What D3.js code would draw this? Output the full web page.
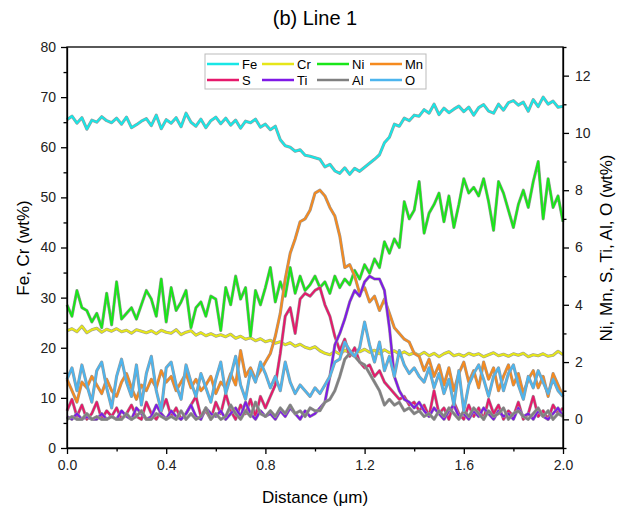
<!DOCTYPE html>
<html><head><meta charset="utf-8">
<script src="https://cdn.jsdelivr.net/npm/d3@7"></script>
<style>body{margin:0;background:#fff}svg{display:block;font-family:Arial,"Liberation Sans",sans-serif}</style>
</head><body><svg id="c" width="629" height="514"></svg>
<script>
const distance = d3.range(0, 101).map(i => +(i * 0.02).toFixed(2));
const xTicks = [0, 0.4, 0.8, 1.2, 1.6, 2.0];
const leftTicks = [0, 10, 20, 30, 40, 50, 60, 70, 80];
const rightTicks = [0, 2, 4, 6, 8, 10, 12];

const Fe = [65.5,66.2,64.8,65.9,63.6,65.4,65.0,66.1,65.3,64.9,65.8,
64.6,66.0,63.9,64.5,65.2,65.7,64.3,66.4,63.7,65.5,
64.8,65.9,64.1,66.8,65.0,64.2,65.6,63.9,65.3,66.0,
64.7,65.8,64.4,65.4,63.8,65.2,64.9,65.6,64.0,64.6,
63.5,64.2,61.5,60.3,60.0,59.2,59.5,58.4,58.2,57.9,
57.6,56.1,56.6,55.3,54.8,55.9,54.6,55.8,55.2,56.0,
56.8,57.6,58.5,60.9,62.0,64.6,64.2,65.8,65.3,66.4,
66.2,67.5,66.8,68.6,66.5,67.8,66.9,67.6,68.2,67.1,
68.0,66.4,67.9,68.5,67.2,66.8,68.6,67.4,68.9,69.3,
68.4,69.0,67.2,69.5,68.1,70.0,68.6,69.2,68.0,68.2];
const Cr = [23.4,23.8,23.2,24.3,23.0,23.6,23.9,23.1,23.7,23.3,23.8,
23.2,23.5,22.9,23.6,23.3,23.0,23.4,22.8,23.5,23.1,
22.9,23.6,22.6,23.1,23.4,22.5,23.0,22.4,22.8,22.3,
22.6,22.2,22.7,21.9,22.3,21.7,22.0,21.4,21.8,21.2,
21.5,20.9,21.2,20.6,21.0,20.3,20.7,20.1,19.8,20.2,
19.4,18.9,18.6,19.3,18.7,19.5,19.0,19.6,19.2,19.7,
19.1,19.5,18.8,19.6,19.0,19.4,18.7,19.2,18.6,19.0,
18.5,19.1,18.4,18.9,18.2,18.8,19.2,18.4,18.7,18.3,
18.9,18.5,18.8,18.2,18.6,19.0,18.4,18.7,18.3,18.8,
18.5,18.9,18.2,18.6,18.4,18.8,18.3,18.5,19.3,18.6];
const Ni = [4.0,3.6,4.5,3.9,3.8,3.4,3.7,3.2,4.4,3.3,4.8,
3.5,3.7,3.9,3.5,4.0,4.5,4.2,3.6,4.9,3.4,
4.6,3.8,4.1,4.5,3.2,3.9,4.1,3.6,4.3,4.2,
3.1,4.6,4.0,5.0,4.2,4.6,2.9,4.5,4.0,4.6,
5.3,4.1,4.8,4.3,5.3,4.4,5.0,4.5,4.7,5.0,
4.6,4.8,4.4,5.0,4.6,4.9,4.7,5.2,4.9,5.4,
5.1,5.6,5.3,6.2,5.8,6.3,6.0,7.6,7.0,7.3,
8.3,6.5,7.2,7.5,7.9,6.9,7.8,6.7,7.5,8.4,
7.9,8.1,7.8,8.4,7.6,6.6,8.3,7.9,7.3,6.7,
7.5,8.0,7.4,8.3,9.0,7.0,8.4,7.4,7.8,6.9];
const Mn = [1.4,1.0,0.6,1.3,1.1,1.5,1.2,0.9,1.4,1.0,0.8,
1.3,1.6,1.1,0.7,1.2,1.0,1.4,1.1,1.7,1.3,
1.5,1.0,1.3,1.6,1.1,1.4,1.0,1.2,1.5,0.9,
1.3,1.1,1.6,1.2,2.4,1.5,1.8,1.4,1.7,2.0,
2.3,2.9,3.7,4.9,5.8,6.3,6.9,7.0,7.3,7.9,
8.0,7.8,7.4,7.1,6.4,5.3,5.4,5.0,4.4,4.6,
4.1,4.3,3.8,4.2,3.7,3.2,3.0,2.8,2.7,2.3,
2.2,1.7,2.1,1.5,1.9,1.2,1.8,1.0,1.6,2.0,
1.3,1.7,1.1,2.0,1.4,1.8,1.0,1.5,1.9,1.2,
1.6,0.9,1.4,1.7,1.1,1.5,0.8,1.6,1.2,0.8];
const S = [0.3,0.7,0.1,0.5,0.0,0.2,0.6,0.0,0.3,0.1,0.4,
0.0,0.2,0.5,0.1,0.0,0.6,0.2,0.0,0.3,0.7,
0.1,0.4,0.0,0.2,0.5,0.8,0.1,0.3,0.0,0.6,
0.2,0.9,0.3,0.0,0.5,0.2,0.7,0.1,0.8,0.4,
0.8,1.2,2.3,3.6,3.9,3.0,4.2,4.4,4.3,4.5,
4.6,4.0,3.6,2.9,2.4,2.8,2.2,2.5,2.0,1.8,
1.9,1.5,1.7,1.3,1.1,0.9,0.7,0.8,0.5,0.6,
0.3,0.5,0.1,1.0,0.2,0.4,0.0,0.6,0.2,0.0,
0.5,0.1,0.4,0.0,0.7,0.2,0.5,0.0,0.3,0.1,
0.6,0.0,0.2,0.8,0.1,0.3,0.0,0.5,0.2,0.4];
const Ti = [0.1,0.0,0.2,0.0,0.1,0.0,0.0,0.2,0.0,0.1,0.0,
0.3,0.1,0.0,0.4,0.2,0.0,0.1,0.5,0.2,0.0,
0.3,0.1,0.0,0.2,0.5,0.1,0.0,0.4,0.2,0.1,
0.3,0.0,0.2,0.4,0.1,0.6,0.2,0.0,0.3,0.1,
0.2,0.0,0.3,0.1,0.4,0.2,0.0,0.3,0.1,0.2,
0.4,0.6,1.5,2.6,3.0,3.5,4.1,4.5,4.3,4.8,
5.0,4.9,4.9,4.5,3.2,1.5,1.0,0.7,0.6,0.4,
0.6,0.3,0.1,0.4,0.2,0.0,0.3,0.5,0.1,0.2,
0.0,0.3,0.1,0.4,0.2,0.0,0.3,0.1,0.2,0.0,
0.4,0.1,0.2,0.0,0.3,0.1,0.0,0.2,0.4,0.1];
const Al = [0.0,0.1,0.0,0.0,0.2,0.0,0.1,0.0,0.0,0.1,0.0,
0.0,0.2,0.0,0.1,0.3,0.0,0.0,0.2,0.1,0.0,
0.1,0.0,0.3,0.0,0.2,0.0,0.1,0.4,0.0,0.2,
0.0,0.1,0.5,0.2,0.0,0.3,0.1,0.6,0.2,0.1,
0.3,0.1,0.4,0.2,0.5,0.2,0.3,0.1,0.4,0.3,
0.3,0.6,0.7,1.0,1.5,2.1,2.3,2.2,2.0,1.9,
1.6,1.3,1.0,0.5,0.7,0.5,0.6,0.3,0.4,0.2,
0.3,0.1,0.2,0.0,0.3,0.1,0.4,0.2,0.0,0.3,
0.1,0.4,0.2,0.0,0.3,0.1,0.2,0.4,0.0,0.2,
0.3,0.1,0.0,0.2,0.4,0.1,0.3,0.0,0.2,0.1];
const O = [1.4,1.8,1.0,1.9,1.2,0.6,1.7,2.0,1.1,0.4,1.5,
2.1,1.3,0.8,1.9,0.5,1.6,2.2,1.0,0.3,1.8,
2.0,1.2,0.7,1.9,1.3,0.8,1.6,1.1,0.6,1.4,
2.0,0.9,1.5,2.2,1.2,0.7,1.7,1.3,2.0,1.6,
1.1,1.5,1.0,2.0,1.3,0.9,1.2,1.0,0.8,1.1,
0.9,1.2,1.5,2.0,2.1,2.7,2.4,2.2,2.5,3.4,
2.6,2.0,2.7,1.7,2.2,1.5,2.4,1.9,1.6,1.8,
1.5,1.3,1.8,1.1,1.6,0.9,1.4,0.5,1.7,0.3,
1.2,1.6,1.9,1.4,0.8,1.5,1.8,1.0,1.6,1.9,
1.2,0.7,1.5,1.1,1.7,1.3,0.9,1.4,1.0,0.8];

const seriesNames = ["Fe","Cr","Ni","Mn","S","Ti","Al","O"];
const seriesValues = [Fe, Cr, Ni, Mn, S, Ti, Al, O];
const seriesAxis = ["left","left","right","right","right","right","right","right"];
const seriesColors = ["#19E6E6","#E6E619","#19E619","#F58A1F","#E6196B","#7F19E6","#808080","#4DB5EE"];

const svg = d3.select("#c");
const L = 67, R = 563, T = 47, B = 448;
const x = d3.scaleLinear().domain([0, 2]).range([L, R]);
const yL = d3.scaleLinear().domain([0, 80]).range([B, T]);
const yR = d3.scaleLinear().domain([-1, 13]).range([B, T]);

svg.append("text").attr("x", 315).attr("y", 25).attr("text-anchor", "middle")
  .attr("font-size", 20).text("(b) Line 1");

const g = svg.append("g");
seriesNames.forEach((n, i) => {
  const ys = seriesAxis[i] === "left" ? yL : yR;
  const line = d3.line().x((d, j) => x(distance[j])).y(d => ys(d));
  g.append("path").datum(seriesValues[i]).attr("d", line).attr("fill", "none")
    .attr("stroke", "#9a9a9a").attr("stroke-width", 3.1).attr("stroke-linejoin", "round");
  g.append("path").datum(seriesValues[i]).attr("d", line).attr("fill", "none")
    .attr("stroke", seriesColors[i]).attr("stroke-width", 2).attr("stroke-linejoin", "round");
});

svg.append("rect").attr("x", L).attr("y", T).attr("width", R - L).attr("height", B - T)
  .attr("fill", "none").attr("stroke", "#000").attr("stroke-width", 1.3);

function styleAxis(a) {
  a.select(".domain").attr("stroke-width", 1.3);
  a.selectAll(".tick line").attr("stroke-width", 1.3);
  a.selectAll("text").attr("font-size", 14).attr("fill", "#222").attr("font-family", "Arial, 'Liberation Sans', sans-serif");
}
const xMinor = d3.range(0.2, 2, 0.4);
const lMinor = d3.range(5, 80, 10);
const rMinor = d3.range(-1, 13.5, 2);

const ax = svg.append("g").attr("transform", `translate(0,${B})`)
  .call(d3.axisBottom(x).tickValues(xTicks).tickFormat(d3.format(".1f")).tickSizeInner(6).tickSizeOuter(0).tickPadding(6));
styleAxis(ax);
svg.append("g").attr("transform", `translate(0,${B})`)
  .call(d3.axisBottom(x).tickValues(xMinor).tickFormat("").tickSizeInner(3.5).tickSizeOuter(0))
  .call(a => { a.select(".domain").remove(); a.selectAll("line").attr("stroke-width", 1.3); });

const al = svg.append("g").attr("transform", `translate(${L},0)`)
  .call(d3.axisLeft(yL).tickValues(leftTicks).tickSizeInner(6).tickSizeOuter(0).tickPadding(5));
styleAxis(al);
svg.append("g").attr("transform", `translate(${L},0)`)
  .call(d3.axisLeft(yL).tickValues(lMinor).tickFormat("").tickSizeInner(3.5).tickSizeOuter(0))
  .call(a => { a.select(".domain").remove(); a.selectAll("line").attr("stroke-width", 1.3); });

const ar = svg.append("g").attr("transform", `translate(${R},0)`)
  .call(d3.axisRight(yR).tickValues(rightTicks).tickSizeInner(6).tickSizeOuter(0).tickPadding(6));
styleAxis(ar);
svg.append("g").attr("transform", `translate(${R},0)`)
  .call(d3.axisRight(yR).tickValues(rMinor).tickFormat("").tickSizeInner(3.5).tickSizeOuter(0))
  .call(a => { a.select(".domain").remove(); a.selectAll("line").attr("stroke-width", 1.3); });

svg.append("text").attr("transform", "translate(29,248) rotate(-90)").attr("text-anchor", "middle")
  .attr("font-size", 17).text("Fe, Cr (wt%)");
svg.append("text").attr("transform", "translate(612,248) rotate(-90)").attr("text-anchor", "middle")
  .attr("font-size", 17).text("Ni, Mn, S, Ti, Al, O (wt%)");
svg.append("text").attr("x", 315).attr("y", 503).attr("text-anchor", "middle")
  .attr("font-size", 17).text("Distance (μm)");

const lg = svg.append("g");
lg.append("rect").attr("x", 205).attr("y", 54).attr("width", 221).attr("height", 35)
  .attr("fill", "#fff").attr("stroke", "#bbb").attr("stroke-width", 1);
const colX = [207, 262, 317, 370];
seriesNames.forEach((n, i) => {
  const cx = colX[i % 4], cy = i < 4 ? 64 : 80;
  lg.append("line").attr("x1", cx).attr("x2", cx + 32).attr("y1", cy).attr("y2", cy)
    .attr("stroke", seriesColors[i]).attr("stroke-width", 2.5);
  lg.append("text").attr("x", cx + 35).attr("y", cy + 5).attr("font-size", 13).text(n);
});
</script></body></html>
